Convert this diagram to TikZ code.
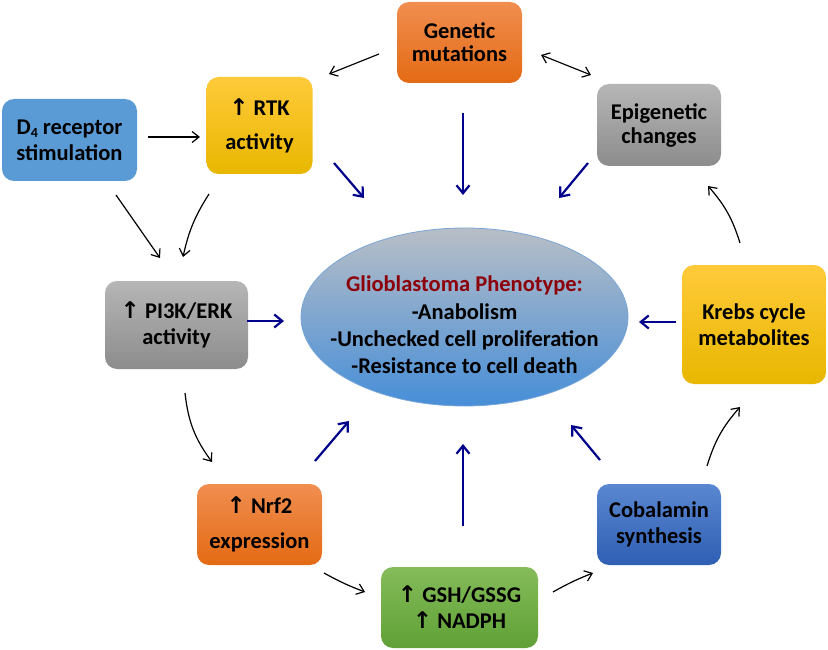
\documentclass[tikz,border=0pt]{standalone}
\usepackage{fontspec}
\setmainfont{Carlito}
\newfontfamily\symf{DejaVu Sans}
\usetikzlibrary{arrows.meta,shapes.geometric}
\definecolor{dred}{RGB}{140,0,10}
\definecolor{navy}{RGB}{0,0,140}
\newcommand{\up}{{\symf\fontsize{23}{23}\selectfont ↑}}
\begin{document}
\begin{tikzpicture}[x=1pt,y=-1pt,
  box/.style={rectangle,rounded corners=12pt,align=center,inner sep=0pt,
    font=\fontsize{22.5}{26}\selectfont\bfseries},
  ylw/.style={box,top color={rgb,255:red,255;green,202;blue,58},bottom color={rgb,255:red,232;green,183;blue,0}},
  org/.style={box,top color={rgb,255:red,240;green,142;blue,80},bottom color={rgb,255:red,228;green,106;blue,20}},
  gry/.style={box,top color={rgb,255:red,182;green,182;blue,182},bottom color={rgb,255:red,140;green,140;blue,140}},
  blk/.style={draw=black,line width=1.2pt,-{Straight Barb[length=7pt,width=11pt]}},
  blu/.style={draw=navy,line width=2.2pt,-{Straight Barb[length=8pt,width=13pt]}}]
\useasboundingbox[fill=white] (0,0) rectangle (828,650);
% boxes
\node[box,fill={rgb,255:red,91;green,155;blue,213},minimum width=135pt,minimum height=82pt] (d4) at (69.5,140)
  {D{\fontsize{14}{14}\selectfont\raisebox{-3pt}{4}} receptor\\stimulation};
\node[ylw,minimum width=106pt,minimum height=97pt] (rtk) at (259.5,125.5) {\up\ RTK\\[8pt]activity};
\node[org,minimum width=125pt,minimum height=81pt] (gen) at (459.5,42.5) {Genetic\\[-3pt]mutations};
\node[gry,minimum width=124pt,minimum height=82pt] (epi) at (659,125) {Epigenetic\\[-2pt]changes};
\node[ylw,minimum width=144pt,minimum height=119pt] (krebs) at (754,324.5) {Krebs cycle\\metabolites};
\node[box,top color={rgb,255:red,90;green,135;blue,208},bottom color={rgb,255:red,47;green,95;blue,180},minimum width=124pt,minimum height=81pt] (cob) at (659,524.5) {Cobalamin\\synthesis};
\node[box,top color={rgb,255:red,132;green,188;blue,90},bottom color={rgb,255:red,96;green,160;blue,54},minimum width=157pt,minimum height=81pt] (gsh) at (459.5,607.5) {\up\ GSH/GSSG\\\up\ NADPH};
\node[org,minimum width=125pt,minimum height=81pt] (nrf) at (259.5,524.5) {\up\ Nrf2\\[9pt]expression};
\node[gry,minimum width=143pt,minimum height=88pt] (pi3k) at (176.5,325) {\up\ PI3K/ERK\\activity};
% ellipse
\node[ellipse,draw={rgb,255:red,120;green,165;blue,215},line width=0.8pt,
  top color={rgb,255:red,184;green,190;blue,198},bottom color={rgb,255:red,70;green,142;blue,216},
  minimum width=327pt,minimum height=178pt,inner sep=0pt] (ell) at (464.5,317) {};
\node[align=center,font=\fontsize{22.5}{27}\selectfont\bfseries] (etext) at (464.5,325)
  {\textcolor{dred}{Glioblastoma Phenotype:}\\[1pt]-Anabolism\\-Unchecked cell proliferation\\-Resistance to cell death};
% black connectors
\draw[blk] ([shift={(-80.5,11.5)}]gen.center) -- ([shift={(69.5,-51.5)}]rtk.center);
\draw[blk,{Straight Barb[length=7pt,width=11pt]}-{Straight Barb[length=7pt,width=11pt]}] ([shift={(81.5,12.5)}]gen.center) -- ([shift={(-68,-50)}]epi.center);
\draw[blk] ([shift={(78.5,-3)}]d4.center) -- ([shift={(-59.5,11.5)}]rtk.center);
\draw[blk] ([shift={(46.5,55)}]d4.center) -- ([shift={(-16.5,-67)}]pi3k.center);
\draw[blk] ([shift={(-50.5,68.5)}]rtk.center) to[bend right=10] ([shift={(6.5,-68)}]pi3k.center);
\draw[blk] ([shift={(8.5,68)}]pi3k.center) to[bend right=15] ([shift={(-47.5,-62.5)}]nrf.center);
\draw[blk] ([shift={(64.5,48.5)}]nrf.center) to[bend right=4] ([shift={(-94.5,-15.5)}]gsh.center);
\draw[blk] ([shift={(93.5,-15.5)}]gsh.center) to[bend left=4] ([shift={(-66,48.5)}]cob.center);
\draw[blk] ([shift={(48,-58.5)}]cob.center) to[bend left=12] ([shift={(-14,82.5)}]krebs.center);
\draw[blk] ([shift={(-14,-81.5)}]krebs.center) to[bend right=12] ([shift={(49,61)}]epi.center);
% blue connectors
\draw[blu] ([shift={(74.5,37.5)}]rtk.center) -- ([shift={(-100.5,-119)}]ell.center);
\draw[blu] ([shift={(3.5,70.5)}]gen.center) -- ([shift={(-1.5,-122)}]ell.center);
\draw[blu] ([shift={(-71,38)}]epi.center) -- ([shift={(94.5,-119)}]ell.center);
\draw[blu] ([shift={(70.5,-4)}]pi3k.center) -- ([shift={(-180.5,4)}]ell.center);
\draw[blu] ([shift={(-78,-2.5)}]krebs.center) -- ([shift={(174.5,5)}]ell.center);
\draw[blu] ([shift={(55.5,-63.5)}]nrf.center) -- ([shift={(-115.5,104)}]ell.center);
\draw[blu] ([shift={(3.5,-81.5)}]gsh.center) -- ([shift={(-1.5,127)}]ell.center);
\draw[blu] ([shift={(-59,-64.5)}]cob.center) -- ([shift={(106.5,108)}]ell.center);
\end{tikzpicture}
\end{document}
